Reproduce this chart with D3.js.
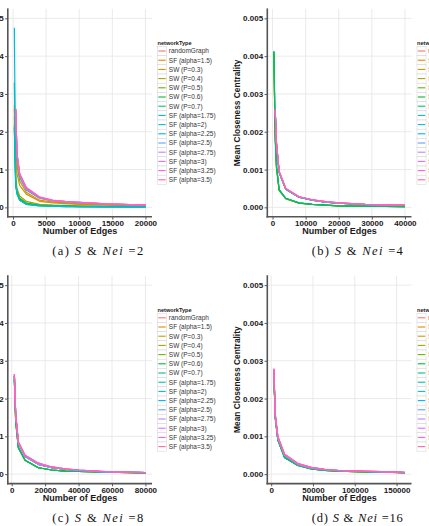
<!DOCTYPE html>
<html><head><meta charset="utf-8">
<script src="https://cdn.jsdelivr.net/npm/d3@7/dist/d3.min.js"></script>
<style>body{margin:0;background:#fff}svg{display:block}</style>
</head><body><svg id="c" width="429" height="526"></svg>
<script>
// ---------- data ----------
const seriesNames = ["randomGraph","SF (alpha=1.5)","SW (P=0.3)","SW (P=0.4)","SW (P=0.5)","SW (P=0.6)","SW (P=0.7)",
  "SF (alpha=1.75)","SF (alpha=2)","SF (alpha=2.25)","SF (alpha=2.5)","SF (alpha=2.75)","SF (alpha=3)","SF (alpha=3.25)","SF (alpha=3.5)"];
const seriesColors = ["#F8766D","#E58700","#C99800","#A3A500","#6BB100","#00BA38","#00BF7D","#00C0AF","#00BCD8","#00B0F6","#619CFF","#B983FF","#E76BF3","#FD61D1","#FF67A4"];
const yTicks = [0, 0.001, 0.002, 0.003, 0.004, 0.005];
const yLimits = [0, 0.005];

// (a) Nei = 2
const edgesA = [200, 400, 600, 1000, 2000, 4000, 6000, 8000, 10000, 14000, 20000];
const xTicksA = [0, 5000, 10000, 15000, 20000];
const randomA = [null, 0.0026, 0.0014, 0.00087, 0.0005, 0.00026, 0.00018, 0.00015, 0.00013, 0.00009, 0.00006];
const sf150A = [0.0027, 0.0016, 0.0011, 0.0007, 0.0004, 0.00019, 0.00014, 0.00011, 0.00009, 0.00007, 0.00005];
const sw03A  = [0.0026, 0.0013, 0.0009, 0.00058, 0.00035, 0.00016, 0.00012, 0.0001, 0.00008, 0.00006, 0.00004];
const sw04A  = [0.0024, 0.0008, 0.0005, 0.0003, 0.00016, 0.00008, 0.00006, 0.00005, 0.00004, 0.00003, 0.00002];
const sw05A  = [0.0022, 0.0007, 0.00042, 0.00025, 0.00012, 0.00006, 0.00005, 0.00004, 0.00003, 0.00002, 0.00002];
const sw06A  = [0.00213, 0.0006, 0.00038, 0.00022, 0.0001, 0.00005, 0.00004, 0.00003, 0.00002, 0.00002, 0.00001];
const sw07A  = [0.0021, 0.00058, 0.00036, 0.0002, 0.00009, 0.00005, 0.00003, 0.00003, 0.00002, 0.00002, 0.00001];
const sf175A = [0.0033, 0.00062, 0.00036, 0.00019, 0.00008, 0.00004, 0.00003, 0.00002, 0.00002, 0.00001, 0.00001];
const sf200A = [0.00475, 0.00068, 0.00037, 0.00019, 0.00008, 0.00004, 0.00003, 0.00002, 0.00002, 0.00001, 0.00001];
const sf225A = [null, 0.0025, 0.0013, 0.0008, 0.00046, 0.00024, 0.00017, 0.00014, 0.00012, 0.00008, 0.00006];
const sf250A = [null, 0.00255, 0.00135, 0.00083, 0.00048, 0.00025, 0.00017, 0.00014, 0.00012, 0.00008, 0.00006];
const sf275A = [null, 0.0026, 0.0014, 0.00087, 0.0005, 0.00026, 0.00018, 0.00015, 0.00012, 0.00009, 0.00006];
const sf300A = [null, 0.00258, 0.00145, 0.0009, 0.00053, 0.00028, 0.00019, 0.00015, 0.00013, 0.00009, 0.00006];
const sf325A = [null, 0.0026, 0.0014, 0.00088, 0.00051, 0.00027, 0.00018, 0.00015, 0.00013, 0.00009, 0.00006];
const sf350A = [null, 0.00262, 0.0014, 0.00088, 0.0005, 0.00026, 0.00018, 0.00015, 0.00013, 0.00009, 0.00006];
const closenessA = [randomA, sf150A, sw03A, sw04A, sw05A, sw06A, sw07A, sf175A, sf200A, sf225A, sf250A, sf275A, sf300A, sf325A, sf350A];

// (b) Nei = 4
const edgesB = [400, 800, 1200, 2000, 4000, 8000, 12000, 16000, 20000, 28000, 40000];
const xTicksB = [0, 10000, 20000, 30000, 40000];
const sfHighB = [null, 0.00258, 0.0017, 0.00095, 0.0005, 0.00028, 0.0002, 0.00015, 0.00012, 0.00008, 0.00005];
const sfLowB  = [null, 0.00255, 0.00165, 0.00092, 0.00048, 0.00027, 0.00019, 0.00014, 0.00011, 0.00007, 0.00005];
const swHighB = [0.0041, 0.00185, 0.00105, 0.00045, 0.00023, 0.00011, 0.00008, 0.00006, 0.00004, 0.00003, 0.00002];
const swLowB  = [0.00413, 0.0019, 0.0011, 0.00047, 0.00024, 0.00012, 0.00008, 0.00006, 0.00004, 0.00003, 0.00002];
const closenessB = [sfLowB, sfLowB, swHighB, swHighB, swHighB, swLowB, swLowB, sfLowB, sfLowB, sfLowB, sfLowB, sfHighB, sfHighB, sfHighB, sfHighB];

// (c) Nei = 8
const edgesC = [1600, 2400, 4000, 8000, 16000, 24000, 32000, 40000, 56000, 80000];
const xTicksC = [0, 20000, 40000, 60000, 80000];
const sfHighC = [0.00265, 0.0016, 0.00085, 0.0005, 0.00029, 0.00019, 0.00014, 0.00011, 0.00007, 0.00004];
const sfLowC  = [0.0026, 0.00155, 0.00082, 0.00047, 0.00026, 0.00017, 0.00013, 0.0001, 0.00006, 0.00004];
const swC     = [0.0025, 0.0014, 0.0007, 0.00037, 0.00017, 0.00011, 0.00008, 0.00007, 0.00005, 0.00003];
const closenessC = [sfLowC, sfLowC, swC, swC, swC, swC, swC, sfLowC, sfLowC, sfLowC, sfLowC, sfLowC, sfHighC, sfHighC, sfHighC];

// (d) Nei = 16
const edgesD = [3200, 4800, 8000, 16000, 32000, 48000, 64000, 80000, 112000, 160000];
const xTicksD = [0, 50000, 100000, 150000];
const sfHighD = [0.00279, 0.0016, 0.001, 0.00053, 0.00028, 0.00018, 0.00013, 0.0001, 0.00008, 0.00005];
const sfLowD  = [0.00275, 0.00155, 0.00095, 0.0005, 0.00026, 0.00016, 0.00012, 0.00009, 0.00007, 0.00004];
const swD     = [0.0027, 0.0015, 0.0009, 0.00044, 0.00023, 0.00014, 0.0001, 0.00008, 0.00006, 0.00004];
const closenessD = [sfLowD, sfLowD, swD, swD, swD, swD, swD, sfLowD, sfLowD, sfLowD, sfLowD, sfLowD, sfHighD, sfHighD, sfHighD];

const captionLetters = ["(a)", "(b)", "(c)", "(d)"];
const neiValues = ["2", "4", "8", "16"];

const panels = [
  {edges: edgesA, closeness: closenessA, xTicks: xTicksA, col: 0, row: 0},
  {edges: edgesB, closeness: closenessB, xTicks: xTicksB, col: 1, row: 0},
  {edges: edgesC, closeness: closenessC, xTicks: xTicksC, col: 0, row: 1},
  {edges: edgesD, closeness: closenessD, xTicks: xTicksD, col: 1, row: 1}
];

// ---------- layout ----------
const COL_SHIFT = 259.5, ROW_SHIFT = 266.8;
const P = {left: 267.3, right: 411.5, top: 8.9, bottom: 216.8};
const SANS = "Liberation Sans, Arial, sans-serif";
const SERIF = "Liberation Serif, Times New Roman, serif";
const svg = d3.select("#c");
svg.append("rect").attr("width", 429).attr("height", 526).attr("fill", "#fff");

panels.forEach((p, pi) => {
  const dx = p.col === 0 ? -COL_SHIFT : 0, dy = p.row * ROW_SHIFT;
  const g = svg.append("g").attr("transform", `translate(${dx},${dy})`);
  const lo = d3.min(p.edges), hi = d3.max(p.edges), pad = (hi - lo) * 0.05;
  const x = d3.scaleLinear().domain([lo - pad, hi + pad]).range([P.left, P.right]);
  const ypad = (yLimits[1] - yLimits[0]) * 0.05;
  const y = d3.scaleLinear().domain([yLimits[0] - ypad, yLimits[1] + ypad]).range([P.bottom, P.top]);

  // grid
  const grid = g.append("g").attr("stroke", "#e4e4e4").attr("stroke-width", 0.8);
  grid.selectAll(".gx").data(p.xTicks).join("line")
    .attr("x1", d => x(d)).attr("x2", d => x(d)).attr("y1", P.top).attr("y2", P.bottom);
  grid.selectAll(".gy").data(yTicks).join("line")
    .attr("y1", d => y(d)).attr("y2", d => y(d)).attr("x1", P.left).attr("x2", P.right);

  // lines
  const line = d3.line().defined(d => d[1] != null).x(d => x(d[0])).y(d => y(d[1]));
  p.closeness.forEach((vals, i) => {
    g.append("path").datum(p.edges.map((e, j) => [e, vals[j]]))
      .attr("d", line).attr("fill", "none").attr("stroke", seriesColors[i])
      .attr("stroke-width", 1.2).attr("stroke-linejoin", "round");
  });

  // axes
  const yAxis = d3.axisLeft(y).tickValues(yTicks).tickFormat(d3.format(".3f")).tickSizeInner(2.7).tickSizeOuter(0).tickPadding(1.5);
  const xAxis = d3.axisBottom(x).tickValues(p.xTicks).tickFormat(d3.format("d")).tickSizeInner(2.7).tickSizeOuter(0).tickPadding(0.6);
  const ya = g.append("g").attr("transform", `translate(${P.left},0)`).call(yAxis);
  const xa = g.append("g").attr("transform", `translate(0,${P.bottom})`).call(xAxis);
  [ya, xa].forEach(a => {
    a.select(".domain").attr("stroke", "#555").attr("stroke-width", 1.6);
    a.selectAll(".tick line").attr("stroke", "#555").attr("stroke-width", 1);
    a.selectAll(".tick text").attr("font-family", SANS).attr("font-size", 8).attr("font-weight", "bold").attr("fill", "#1a1a1a");
  });
  ya.select(".domain").attr("d", `M0,${P.top - 0.5}V${P.bottom + 0.8}`);
  xa.select(".domain").attr("d", `M${P.left - 0.8},0H${P.right}`);

  // axis titles
  g.append("text").attr("x", (P.left + P.right) / 2).attr("y", 234.2)
    .attr("text-anchor", "middle").attr("font-family", SANS).attr("font-size", 9).attr("font-weight", "bold")
    .attr("fill", "#1a1a1a").text("Number of Edges");
  g.append("text").attr("transform", `translate(239.6,${(P.top + P.bottom) / 2}) rotate(-90)`)
    .attr("text-anchor", "middle").attr("font-family", SANS).attr("font-size", 8.4).attr("font-weight", "bold")
    .attr("fill", "#1a1a1a").text("Mean Closeness Centrality");

  // legend
  const lx = P.right + 5.5, ly0 = 51, step = 9.2;
  g.append("text").attr("x", lx).attr("y", 45.2).attr("font-family", SANS).attr("font-size", 5.6)
    .attr("font-weight", "bold").attr("fill", "#1a1a1a").text("networkType");
  const items = g.append("g").selectAll("g").data(seriesNames).join("g")
    .attr("transform", (d, i) => `translate(${lx},${ly0 + i * step})`);
  items.append("rect").attr("x", 0).attr("y", -step / 2).attr("width", 9).attr("height", step)
    .attr("fill", "#fff").attr("stroke", "#d0d0d0").attr("stroke-width", 0.5);
  items.append("line").attr("x1", 0.8).attr("x2", 8.2).attr("y1", 0).attr("y2", 0)
    .attr("stroke", (d, i) => seriesColors[i]).attr("stroke-width", 1.1);
  items.append("text").attr("x", 11.3).attr("y", 2.3).attr("font-family", SANS).attr("font-size", 6.5)
    .attr("fill", "#333").text(d => d);

  // caption
  const cap = g.append("text").attr("x", 357.3).attr("y", 255.2).attr("text-anchor", "middle")
    .attr("font-family", SERIF).attr("font-size", 12.5).attr("fill", "#111")
    .attr("textLength", 91).attr("lengthAdjust", "spacing");
  cap.append("tspan").text(captionLetters[pi] + " ");
  cap.append("tspan").attr("font-style", "italic").text("S");
  cap.append("tspan").text(" & ");
  cap.append("tspan").attr("font-style", "italic").text("Nei");
  cap.append("tspan").text(" =" + neiValues[pi]);
});
</script></body></html>
